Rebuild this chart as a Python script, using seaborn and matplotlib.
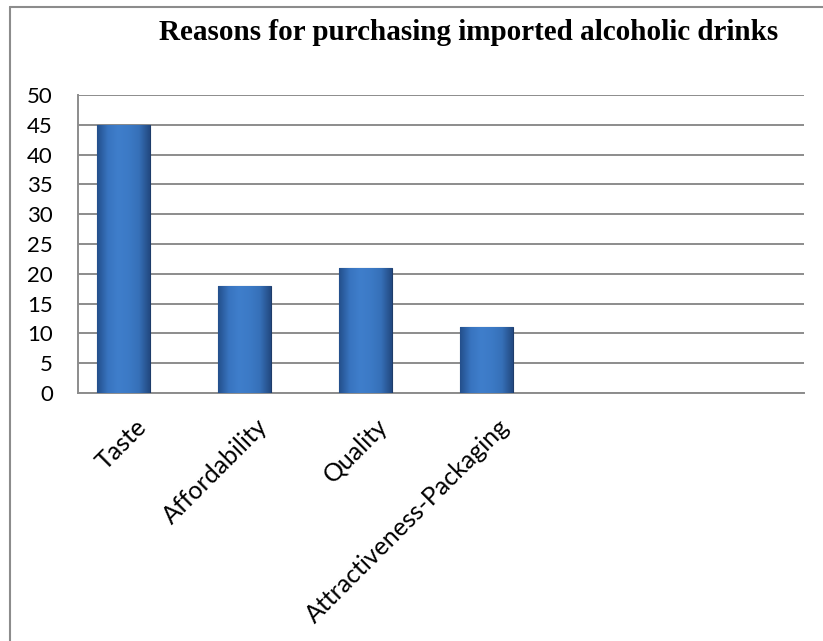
import numpy as np
import matplotlib
matplotlib.use("Agg")
import matplotlib.pyplot as plt
import matplotlib.transforms as mtransforms
from matplotlib.colors import LinearSegmentedColormap
from matplotlib.lines import Line2D
import seaborn as sns

# ---------------------------------------------------------------------------
# Data
# ---------------------------------------------------------------------------
reasons = ["Taste", "Affordability", "Quality", "Attractiveness-Packaging"]
counts = [45, 18, 21, 11]
y_ticks = list(range(0, 51, 5))
title = "Reasons for purchasing imported alcoholic drinks"

# ---------------------------------------------------------------------------
# Style
# ---------------------------------------------------------------------------
sns.set_theme(style="white")
plt.rcParams['font.family'] = ['Lato', 'DejaVu Sans']

W, H = 823, 641
fig = plt.figure(figsize=(W / 100, H / 100), dpi=100)
fig.patch.set_facecolor("white")

# plot area placed like the Excel original
ax = fig.add_axes([78 / W, 1 - 393 / H, (804 - 78) / W, (393 - 95) / H])

sns.barplot(x=reasons, y=counts, color="#3B76C2", width=0.43,
            edgecolor="#1E3C6A", linewidth=0.8, ax=ax, zorder=3)

# Excel-ish gradient fill on each bar, clipped to the bar itself
bar_cmap = LinearSegmentedColormap.from_list(
    "bar", ["#24508C", "#3874C0", "#3F7ECB", "#3C7AC6", "#3670B8", "#234A82"])
grad = np.linspace(0, 1, 64).reshape(1, -1)
for patch in ax.patches:
    x0, w, h = patch.get_x(), patch.get_width(), patch.get_height()
    im = ax.imshow(grad, cmap=bar_cmap, aspect="auto", zorder=3.5,
                   extent=[x0, x0 + w, 0, h], interpolation="bicubic")
    im.set_clip_path(patch)

ax.set_xlim(-0.376, 5.624)
ax.set_ylim(0, 50)
ax.set_yticks(y_ticks)
ax.yaxis.grid(True, color="#8C8C8C", linewidth=1.4)
ax.xaxis.grid(False)
ax.set_axisbelow(True)
ax.set_xlabel("")
ax.set_ylabel("")

for side in ["top", "right"]:
    ax.spines[side].set_visible(False)
for side in ["left", "bottom"]:
    ax.spines[side].set_color("#8C8C8C")
    ax.spines[side].set_linewidth(1.4)

ax.tick_params(axis="y", length=0, pad=18, labelsize=16, colors="black")
ax.tick_params(axis="x", length=0, pad=4, labelsize=18, colors="black")

offset = mtransforms.ScaledTranslation(0.11, -0.16, fig.dpi_scale_trans)
for lab in ax.get_xticklabels():
    lab.set_rotation(45)
    lab.set_ha("right")
    lab.set_va("top")
    lab.set_rotation_mode("anchor")
    lab.set_transform(lab.get_transform() + offset)

fig.text(469 / W, 1 - 32 / H, title, ha="center", va="center",
         family=["Liberation Serif", "DejaVu Serif"], fontweight="bold",
         fontsize=21, color="black")

# chart-area border (only top and left edges fall inside the picture)
fig.add_artist(Line2D([10 / W, 10 / W], [0, 1 - 7 / H], color="#8C8C8C",
                      linewidth=1.5, transform=fig.transFigure))
fig.add_artist(Line2D([10 / W, 1], [1 - 7 / H, 1 - 7 / H], color="#8C8C8C",
                      linewidth=1.5, transform=fig.transFigure))

fig.savefig("out.png", dpi=100)
